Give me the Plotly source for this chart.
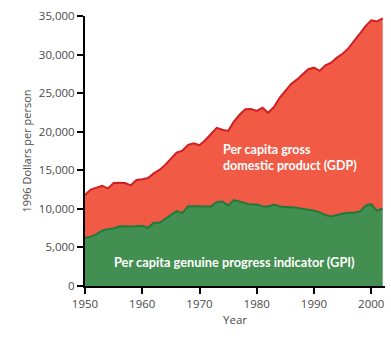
import plotly.graph_objects as go

years = list(range(1950, 2003))
gdp = [11800, 12500, 12750, 13000, 12650, 13350, 13400, 13350, 13050, 13750,
       13850, 14000, 14600, 15050, 15700, 16500, 17300, 17550, 18300, 18500,
       18250, 18900, 19700, 20500, 20250, 20100, 21300, 22200, 22900, 22950,
       22700, 23100, 22450, 23200, 24400, 25300, 26200, 26750, 27400, 28100,
       28300, 27900, 28600, 28950, 29600, 30100, 30800, 31700, 32700, 33700,
       34450, 34300, 34700]
gpi = [6250, 6400, 6700, 7200, 7350, 7450, 7750, 7700, 7700, 7750,
       7800, 7550, 8200, 8200, 8700, 9200, 9700, 9450, 10350, 10350,
       10300, 10300, 10300, 10850, 10950, 10450, 11150, 10950, 10850, 10550,
       10550, 10350, 10300, 10550, 10300, 10280, 10250, 10150, 10000, 9900,
       9750, 9550, 9200, 9000, 9200, 9400, 9480, 9500, 9650, 10400,
       10600, 9750, 10050]
y_ticks = [0, 5000, 10000, 15000, 20000, 25000, 30000, 35000]
y_tick_labels = ["0", "5,000", "10,000", "15,000", "20,000", "25,000", "30,000", "35,000"]
x_ticks = [1950, 1960, 1970, 1980, 1990, 2000]

fig = go.Figure()
fig.add_trace(go.Scatter(x=years, y=gpi, mode="lines", fill="tozeroy",
                         line=dict(color="#1F7A3C", width=2),
                         fillcolor="#438F52", hoverinfo="skip"))
fig.add_trace(go.Scatter(x=years, y=gdp, mode="lines", fill="tonexty",
                         line=dict(color="#D21F24", width=2),
                         fillcolor="#F15A45", hoverinfo="skip"))

fig.add_annotation(x=1973.7, y=16600, xref="x", yref="y", xanchor="left", yanchor="middle",
                   text="Per capita gross<br>domestic product (GDP)", showarrow=False, align="left",
                   font=dict(family="Lato", size=12.5, color="white", weight="bold"))
fig.add_annotation(x=1954.7, y=3150, xref="x", yref="y", xanchor="left", yanchor="middle",
                   text="Per capita genuine progress indicator (GPI)", showarrow=False,
                   font=dict(family="Lato", size=12.8, color="white", weight="bold"))

axis_font = dict(family="Open Sans", size=11.5, color="#4a4a4a")
fig.update_layout(
    width=391, height=339,
    margin=dict(l=85, r=6, t=16, b=53),
    paper_bgcolor="white", plot_bgcolor="white",
    showlegend=False,
    xaxis=dict(range=[1950, 2002.4], tickvals=x_ticks, ticks="outside", ticklen=6,
               tickcolor="black", tickwidth=1.5, showline=True, linecolor="black", linewidth=2,
               showgrid=False, zeroline=False, tickfont=axis_font,
               title=dict(text="Year", font=axis_font, standoff=6)),
    yaxis=dict(range=[0, 35000], tickvals=y_ticks, ticktext=y_tick_labels, ticks="outside",
               ticklen=6, tickcolor="black", tickwidth=1.5, showline=True, linecolor="black",
               linewidth=2, showgrid=False, zeroline=False, tickfont=axis_font,
               title=dict(text="1996 Dollars per person", font=dict(family="Open Sans", size=11, color="#4a4a4a"), standoff=5)),
)
fig.write_html("out.html")
